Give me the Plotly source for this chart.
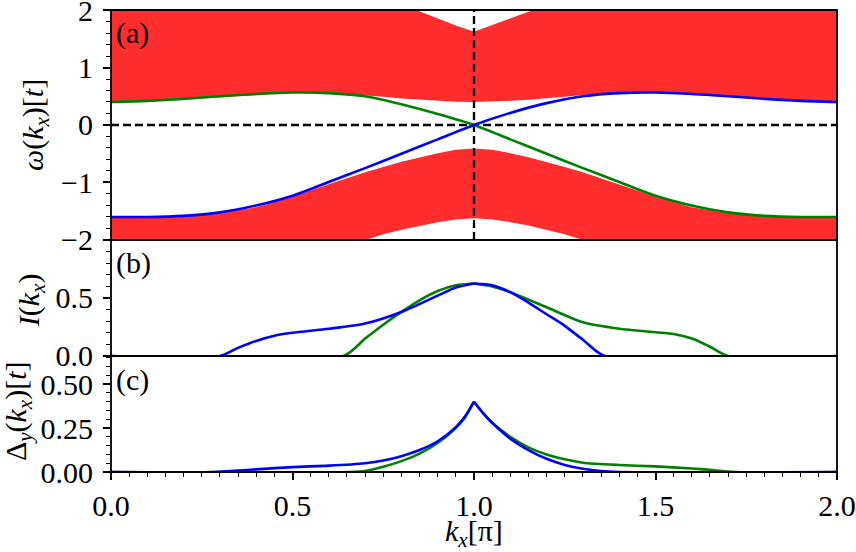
import plotly.graph_objects as go

# ---------------- data ----------------
# panel (a): bulk bands (edges) on a common k grid
k_band = [0.0, 0.1, 0.2, 0.3, 0.4, 0.5, 0.6, 0.7, 0.75, 0.8, 0.85, 0.9, 0.95, 1.0,
          1.05, 1.1, 1.15, 1.2, 1.25, 1.3, 1.4, 1.5, 1.6, 1.7, 1.8, 1.9, 2.0]
upper_band_low = [0.40, 0.415, 0.445, 0.485, 0.525, 0.555, 0.56, 0.52, 0.49, 0.46, 0.44, 0.42, 0.405, 0.40,
                  0.405, 0.42, 0.44, 0.46, 0.49, 0.52, 0.56, 0.555, 0.525, 0.485, 0.445, 0.415, 0.40]
upper_band_high = [2.9, 2.9, 2.85, 2.8, 2.7, 2.6, 2.5, 2.4, 2.25, 2.1, 1.97, 1.85, 1.73, 1.62,
                   1.73, 1.85, 1.97, 2.1, 2.25, 2.4, 2.5, 2.6, 2.7, 2.8, 2.85, 2.9, 2.9]
lower_band_high = [-1.60, -1.60, -1.585, -1.535, -1.43, -1.25, -1.03, -0.82, -0.73, -0.64, -0.56, -0.49, -0.43, -0.41,
                   -0.43, -0.49, -0.56, -0.64, -0.73, -0.82, -1.03, -1.25, -1.43, -1.535, -1.585, -1.60, -1.60]
lower_band_low = [-2.9, -2.9, -2.8, -2.7, -2.55, -2.4, -2.2, -2.0, -1.90, -1.82, -1.75, -1.69, -1.645, -1.62,
                  -1.645, -1.69, -1.75, -1.82, -1.90, -2.0, -2.2, -2.4, -2.55, -2.7, -2.8, -2.9, -2.9]

# panel (a): edge-state dispersions
k_line = [0.0, 0.1, 0.2, 0.3, 0.4, 0.5, 0.6, 0.7, 0.8, 0.9, 1.0,
          1.1, 1.2, 1.3, 1.4, 1.5, 1.6, 1.7, 1.8, 1.9, 2.0]
omega_green = [0.40, 0.42, 0.455, 0.50, 0.54, 0.565, 0.555, 0.50, 0.36, 0.19, 0.0,
               -0.25, -0.50, -0.75, -0.99, -1.23, -1.40, -1.52, -1.58, -1.60, -1.60]
omega_blue = [-1.60, -1.60, -1.58, -1.52, -1.40, -1.23, -0.99, -0.75, -0.50, -0.25, 0.0,
              0.21, 0.38, 0.50, 0.555, 0.565, 0.54, 0.50, 0.455, 0.42, 0.40]
zero_level = 0.0
k_node = 1.0

# panel (b): I(k_x)
k_I_blue = [0.0, 0.3, 0.35, 0.4, 0.45, 0.5, 0.6, 0.7, 0.8, 0.9, 0.95, 1.0, 1.05, 1.1,
            1.15, 1.2, 1.25, 1.3, 1.36, 2.0]
I_blue = [0.0, 0.0, 0.07, 0.13, 0.175, 0.20, 0.235, 0.28, 0.38, 0.52, 0.59, 0.625, 0.61, 0.55,
          0.46, 0.36, 0.26, 0.14, 0.0, 0.0]
k_I_green = [0.0, 0.64, 0.7, 0.75, 0.8, 0.85, 0.9, 0.95, 1.0, 1.05, 1.1, 1.2, 1.3, 1.4,
             1.5, 1.55, 1.6, 1.65, 1.7, 2.0]
I_green = [0.0, 0.0, 0.15, 0.27, 0.38, 0.48, 0.56, 0.61, 0.625, 0.60, 0.55, 0.42, 0.29, 0.235,
           0.205, 0.19, 0.15, 0.08, 0.0, 0.0]

# panel (c): Delta_y(k_x)
k_D_blue = [0.0, 0.28, 0.35, 0.4, 0.5, 0.6, 0.7, 0.75, 0.8, 0.85, 0.9, 0.95, 0.975, 1.0,
            1.025, 1.05, 1.1, 1.15, 1.2, 1.25, 1.3, 1.35, 1.4, 2.0]
D_blue = [0.0, 0.0, 0.008, 0.015, 0.028, 0.036, 0.05, 0.065, 0.09, 0.125, 0.175, 0.255, 0.315, 0.40,
          0.335, 0.28, 0.19, 0.125, 0.075, 0.04, 0.018, 0.005, 0.0, 0.0]
k_D_green = [0.0, 0.66, 0.7, 0.75, 0.8, 0.85, 0.9, 0.95, 0.975, 1.0, 1.025, 1.05, 1.1, 1.15,
             1.2, 1.25, 1.3, 1.4, 1.5, 1.6, 1.65, 1.72, 2.0]
D_green = [0.0, 0.0, 0.006, 0.03, 0.062, 0.105, 0.165, 0.25, 0.31, 0.40, 0.335, 0.28, 0.20, 0.14,
           0.10, 0.072, 0.053, 0.04, 0.032, 0.02, 0.012, 0.0, 0.0]

# tick labels
x_ticks = [0.0, 0.5, 1.0, 1.5, 2.0]
a_ticks = [-2, -1, 0, 1, 2]
b_ticks = [0.0, 0.5]
c_ticks = [0.0, 0.25, 0.5]

# ---------------- styling ----------------
RED = "rgb(255,45,45)"
GREEN = "#008000"
BLUE = "#0000ff"
FONT = "Liberation Serif"
FS = 30
LW = 2.6

fig = go.Figure()


def line_trace(x, y, color, xa, ya, spline=True):
    ln = dict(color=color, width=LW)
    if spline:
        ln.update(shape="spline", smoothing=0.7)
    return go.Scatter(x=x, y=y, mode="lines", line=ln, xaxis=xa, yaxis=ya, hoverinfo="skip")


def split_at_peak(x, y, xa, ya, color):
    # two smooth pieces meeting at the cusp (k = 1)
    i = x.index(1.0)
    return [line_trace(x[:i + 1], y[:i + 1], color, xa, ya),
            line_trace(x[i:], y[i:], color, xa, ya)]


# bands (closed polygons built from edge arrays)
fig.add_trace(go.Scatter(x=k_band + k_band[::-1], y=upper_band_low + upper_band_high[::-1],
                         fill="toself", fillcolor=RED, line=dict(width=0), mode="lines",
                         xaxis="x", yaxis="y", hoverinfo="skip"))
fig.add_trace(go.Scatter(x=k_band + k_band[::-1], y=lower_band_low + lower_band_high[::-1],
                         fill="toself", fillcolor=RED, line=dict(width=0), mode="lines",
                         xaxis="x", yaxis="y", hoverinfo="skip"))

# dashed reference lines
dash = dict(color="black", width=2.3, dash="8px,4px")
fig.add_trace(go.Scatter(x=[0, 2], y=[zero_level, zero_level], mode="lines", line=dash,
                         xaxis="x", yaxis="y", hoverinfo="skip"))
fig.add_trace(go.Scatter(x=[k_node, k_node], y=[-2, 2], mode="lines", line=dash,
                         xaxis="x", yaxis="y", hoverinfo="skip"))

# panel (a) lines
fig.add_trace(line_trace(k_line, omega_green, GREEN, "x", "y"))
fig.add_trace(line_trace(k_line, omega_blue, BLUE, "x", "y"))

# panel (b)
for t in split_at_peak(k_I_green, I_green, "x2", "y2", GREEN):
    fig.add_trace(t)
for t in split_at_peak(k_I_blue, I_blue, "x2", "y2", BLUE):
    fig.add_trace(t)

# panel (c)
for t in split_at_peak(k_D_green, D_green, "x3", "y3", GREEN):
    fig.add_trace(t)
for t in split_at_peak(k_D_blue, D_blue, "x3", "y3", BLUE):
    fig.add_trace(t)

noline = dict(showline=False, showgrid=False, zeroline=False, automargin=False)
tickfont = dict(family=FONT, size=FS, color="black")

xcommon = dict(range=[0, 2], **noline)
ycommon = dict(ticks="outside", ticklen=7, tickwidth=1.5, tickcolor="black", tickfont=tickfont,
               ticklabelstandoff=4, ticklabeloverflow="allow", **noline)
fig.update_layout(
    width=856, height=552,
    margin=dict(l=111, r=19, t=10, b=80, autoexpand=False),
    paper_bgcolor="white", plot_bgcolor="white",
    showlegend=False,
    font=dict(family=FONT, size=FS, color="black"),
    xaxis=dict(anchor="y", domain=[0, 1], showticklabels=False, ticks="", **xcommon),
    xaxis2=dict(anchor="y2", domain=[0, 1], matches="x", showticklabels=False, ticks="", **xcommon),
    xaxis3=dict(anchor="y3", domain=[0, 1], matches="x", ticks="outside", ticklen=7, tickwidth=1.5,
                tickcolor="black", tickvals=x_ticks, tickformat=".1f", tickfont=tickfont,
                ticklabelstandoff=0, ticklabeloverflow="allow",
                minor=dict(ticks="outside", ticklen=4, tickwidth=1.2, tickcolor="black",
                           dtick=0.05, tick0=0, showgrid=False),
                **xcommon),
    yaxis=dict(anchor="x", domain=[0.5022, 1.0], range=[-2, 2], tickvals=a_ticks,
               minor=dict(ticks="outside", ticklen=4, tickwidth=1.2, tickcolor="black",
                          dtick=0.2, tick0=0, showgrid=False),
               **ycommon),
    yaxis2=dict(anchor="x2", domain=[0.2511, 0.5022], range=[0, 1.0], tickvals=b_ticks, tickformat=".1f",
                minor=dict(ticks="outside", ticklen=4, tickwidth=1.2, tickcolor="black",
                           dtick=0.1, tick0=0, showgrid=False),
                **ycommon),
    yaxis3=dict(anchor="x3", domain=[0.0, 0.2511], range=[0, 0.66], tickvals=c_ticks, tickformat=".2f",
                minor=dict(ticks="outside", ticklen=4, tickwidth=1.2, tickcolor="black",
                           dtick=0.05, tick0=0, showgrid=False),
                **ycommon),
)

# panel frames
shapes = []
for xa, ya in [("x", "y"), ("x2", "y2"), ("x3", "y3")]:
    shapes.append(dict(type="rect", xref=f"{xa} domain", yref=f"{ya} domain", x0=0, x1=1, y0=0, y1=1,
                       line=dict(color="black", width=1.8), layer="above"))
fig.update_layout(shapes=shapes)

ann = dict(xref="paper", yref="paper", showarrow=False, font=dict(family=FONT, size=FS, color="black"))
annotations = [
    dict(text="<i>ω</i>(<i>k</i><sub><i>x</i></sub>)[<i>t</i>]", x=-0.1047, y=0.751, textangle=-90,
         xanchor="center", yanchor="middle", **ann),
    dict(text="<i>I</i>(<i>k</i><sub><i>x</i></sub>)", x=-0.110, y=0.372, textangle=-90,
         xanchor="center", yanchor="middle", **ann),
    dict(text="Δ<sub><i>y</i></sub>(<i>k</i><sub><i>x</i></sub>)[<i>t</i>]", x=-0.128, y=0.132, textangle=-90,
         xanchor="center", yanchor="middle", **ann),
    dict(text="<i>k</i><sub><i>x</i></sub>[π]", x=0.5, y=-0.132, xanchor="center", yanchor="middle", **ann),
    dict(text="(a)", x=0.004, y=0.951, xanchor="left", yanchor="middle", **ann),
    dict(text="(b)", x=0.004, y=0.452, xanchor="left", yanchor="middle", **ann),
    dict(text="(c)", x=0.004, y=0.199, xanchor="left", yanchor="middle", **ann),
]
fig.update_layout(annotations=annotations)

fig.write_html("out.html")
